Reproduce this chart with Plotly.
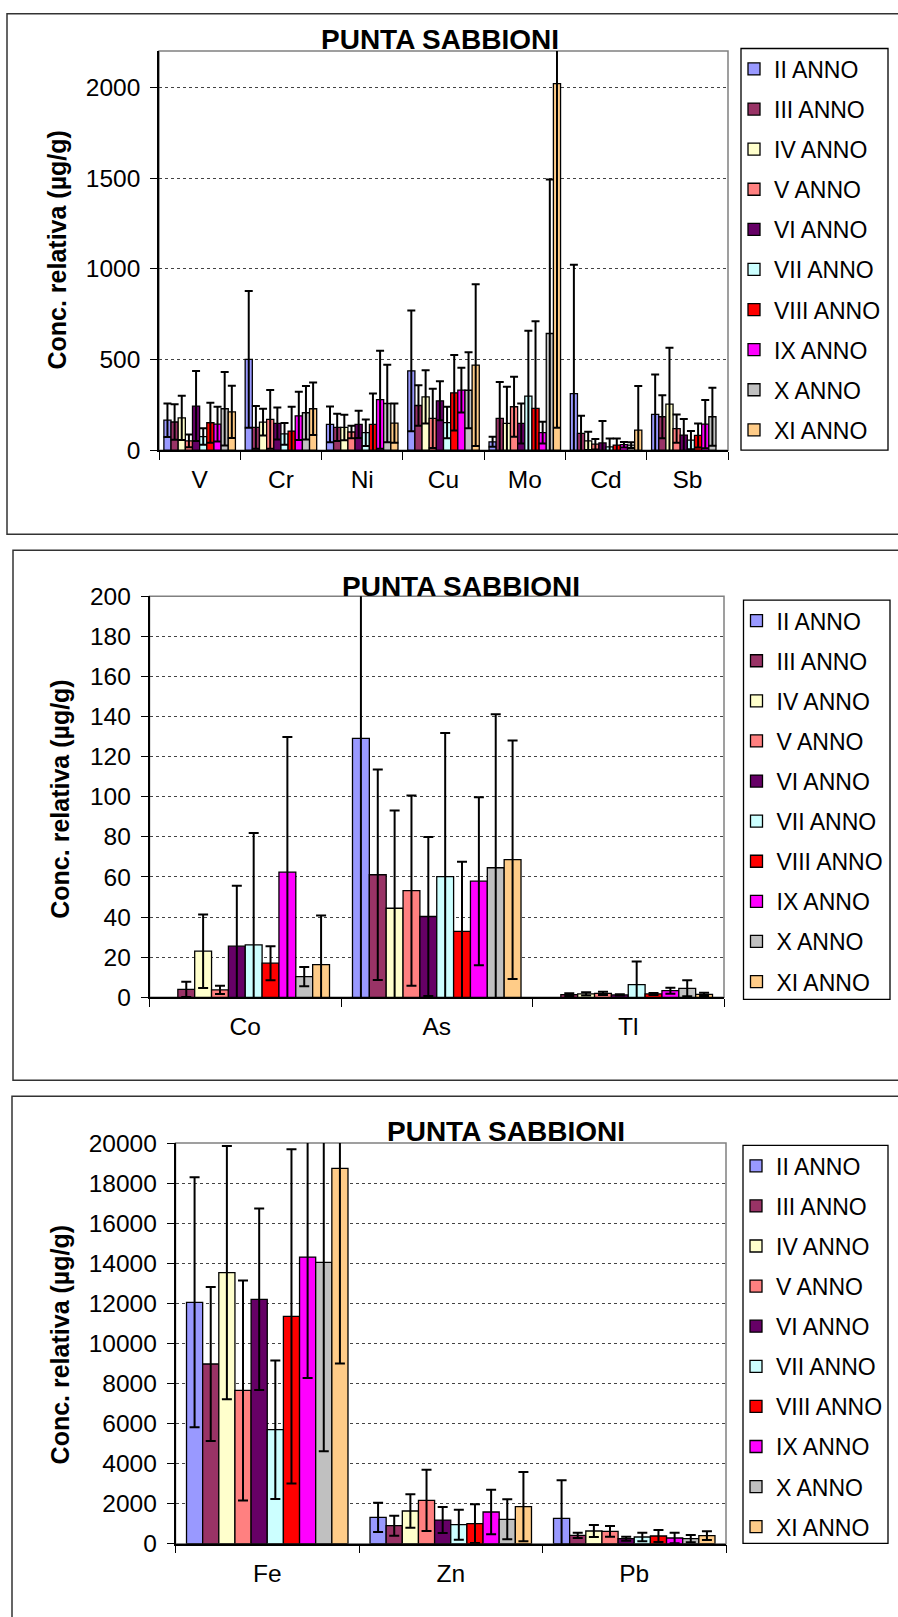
import plotly.graph_objects as go

W, H = 898, 1617

years = ["II ANNO", "III ANNO", "IV ANNO", "V ANNO", "VI ANNO",
         "VII ANNO", "VIII ANNO", "IX ANNO", "X ANNO", "XI ANNO"]
colors = ["#9999FF", "#993366", "#FFFFCC", "#FF8080", "#660066",
          "#CCFFFF", "#FF0000", "#FF00FF", "#C0C0C0", "#FFCC88"]

# ---- panel 1 ----
elements1 = ["V", "Cr", "Ni", "Cu", "Mo", "Cd", "Sb"]
vals1 = [  # rows = year, cols = element
    [165, 500, 142, 437, 46, 312, 197],
    [155, 125, 125, 246, 175, 92, 184],
    [178, 154, 125, 294, 147, 51, 254],
    [51, 169, 100, 175, 239, 33, 119],
    [243, 147, 142, 272, 147, 40, 83],
    [75, 90, 96, 152, 298, 18, 55],
    [151, 105, 142, 316, 230, 28, 81],
    [143, 189, 278, 331, 96, 30, 143],
    [228, 206, 257, 330, 643, 28, 184],
    [211, 228, 149, 469, 2020, 110, None],
]
errs1 = [
    [92, 377, 99, 333, 28, 710, 220],
    [98, 118, 75, 112, 200, 97, 119],
    [122, 74, 70, 147, 202, 50, 310],
    [35, 162, 35, 163, 165, 29, 78],
    [193, 88, 75, 107, 110, 120, 88],
    [45, 60, 73, 87, 360, 46, 50],
    [110, 134, 170, 208, 481, 36, 66],
    [96, 133, 270, 123, 60, 15, 133],
    [202, 147, 213, 209, 849, 16, 160],
    [144, 145, 108, 446, 1897, 243, None],
]

# ---- panel 2 ----
elements2 = ["Co", "As", "Tl"]
vals2 = [
    [None, 129.1, None],
    [4.0, 61.1, 1.3],
    [23.0, 44.4, 1.7],
    [3.7, 53.2, 2.0],
    [25.5, 40.3, 1.2],
    [26.1, 60.2, 6.3],
    [17.0, 32.9, 1.7],
    [62.4, 57.9, 3.3],
    [10.3, 64.6, 4.5],
    [16.3, 68.6, 1.5],
]
errs2 = [
    [None, 135, None],
    [3.8, 52.5, 0.7],
    [18.3, 48.8, 0.8],
    [2.1, 47.4, 0.8],
    [30.1, 39.6, 0.3],
    [55.8, 71.6, 11.5],
    [8.5, 34.7, 0.5],
    [67.4, 41.9, 1.5],
    [4.8, 76.5, 4.0],
    [24.5, 59.5, 0.8],
]

# ---- panel 3 ----
elements3 = ["Fe", "Zn", "Pb"]
vals3 = [
    [12050, 1315, 1265],
    [8970, 900, 416],
    [13530, 1630, 632],
    [7650, 2160, 616],
    [12200, 1180, 250],
    [5690, 950, 333],
    [11350, 1000, 383],
    [14310, 1580, 283],
    [14040, 1215, 250],
    [18740, 1850, 399],
]
errs3 = [
    [6240, 732, 1897],
    [3840, 499, 133],
    [6320, 832, 300],
    [5490, 1531, 266],
    [4530, 649, 100],
    [3460, 749, 216],
    [8340, 966, 300],
    [6040, 1115, 266],
    [9430, 998, 183],
    [9740, 1731, 216],
]

FONT = "Liberation Sans, Arial, sans-serif"
TITLE = "PUNTA SABBIONI"
YTITLE = "Conc. relativa (µg/g)"

VS, VOFF = 0.983, 13.0   # vertical compensation


def px(x):
    return x / W


def Y(y):
    return (y - VOFF) / VS


def py(y):
    return 1 - Y(y) / H


panels = [
    dict(cats=elements1, vals=vals1, errs=errs1, xd=(159, 728), yd=(51, 450),
         yr=[0, 2200], dt=500, leg=(741, 48.5, 888, 450), title=(439.5, 38),
         ytl=(57.5, 250), frame=(7, 4, 534), cap=4),
    dict(cats=elements2, vals=vals2, errs=errs2, xd=(149.5, 724), yd=(596, 997),
         yr=[0, 200], dt=20, leg=(743.5, 600, 890, 999), title=(460.5, 584),
         ytl=(60.5, 799), frame=(13, 550, 1080), cap=5),
    dict(cats=elements3, vals=vals3, errs=errs3, xd=(175.5, 726), yd=(1142.7, 1543.2),
         yr=[0, 20000], dt=2000, leg=(743, 1145, 888, 1543), title=(506, 1129),
         ytl=(60, 1345), frame=(12, 1096, 1640), cap=5),
]

fig = go.Figure()
shapes = []
annotations = []
layout = dict(width=W, height=H, margin=dict(l=0, r=0, t=0, b=0),
              paper_bgcolor="white", plot_bgcolor="white",
              barmode="group", bargap=0.12, bargroupgap=0,
              font=dict(family=FONT, color="black"), showlegend=True)

for p, P in enumerate(panels):
    sfx = "" if p == 0 else str(p + 1)
    legname = "legend" + sfx
    for i, yname in enumerate(years):
        fig.add_trace(go.Bar(
            name=yname, x=P["cats"], y=P["vals"][i],
            xaxis="x" + sfx, yaxis="y" + sfx,
            marker=dict(color=colors[i], line=dict(color="black", width=1.3)),
            error_y=dict(type="data", array=P["errs"][i], symmetric=True,
                         color="black", thickness=2, width=P["cap"]),
            legend=legname, legendgroup=f"p{p}_{i}",
        ))
    layout["xaxis" + sfx] = dict(
        domain=[px(P["xd"][0]), px(P["xd"][1])], anchor="y" + sfx,
        showline=True, linecolor="black", linewidth=1.5,
        ticks="outside", tickson="boundaries", ticklen=8, tickcolor="black",
        tickwidth=1.3, ticklabelstandoff=7,
        tickfont=dict(size=24.5, family=FONT, color="black"),
        showgrid=False, fixedrange=True)
    layout["yaxis" + sfx] = dict(
        domain=[py(P["yd"][1]), py(P["yd"][0])], anchor="x" + sfx,
        range=P["yr"], dtick=P["dt"], tick0=0, tickformat="d",
        showline=True, linecolor="black", linewidth=1.5,
        ticks="outside", ticklen=7, tickcolor="black", tickwidth=1.3,
        ticklabelstandoff=5,
        tickfont=dict(size=24.5, family=FONT, color="black"),
        showgrid=True, gridcolor="#444444", griddash="dot", gridwidth=1,
        zeroline=False, fixedrange=True)
    lx0, ly0, lx1, ly1 = P["leg"]
    layout[legname] = dict(
        x=px(734 if p == 0 else lx0 - 7), y=py(ly0 - 1), xanchor="left", yanchor="top",
        borderwidth=0, bgcolor="rgba(0,0,0,0)",
        font=dict(size=23, family=FONT, color="black"),
        tracegroupgap=7.2, itemclick=False, itemdoubleclick=False)
    # legend border
    shapes.append(dict(type="rect", xref="paper", yref="paper",
                       x0=px(lx0), x1=px(lx1), y0=py(ly1), y1=py(ly0),
                       line=dict(color="black", width=1.3), fillcolor="white",
                       layer="below"))
    # outer frame
    fx0, fy0, fy1 = P["frame"]
    ytop = min(py(fy0), 1 - 0.8 / H)
    shapes.append(dict(type="rect", xref="paper", yref="paper",
                       x0=px(fx0), x1=1.05, y0=py(fy1), y1=ytop,
                       line=dict(color="#333333", width=1.5), layer="below"))
    # plot area border (grey)
    shapes.append(dict(type="rect", xref="paper", yref="paper",
                       x0=px(P["xd"][0]), x1=px(P["xd"][1]),
                       y0=py(P["yd"][1]), y1=py(P["yd"][0]),
                       line=dict(color="#808080", width=1.5), layer="below"))
    annotations.append(dict(text=f"<b>{TITLE}</b>", xref="paper", yref="paper",
                            x=px(P["title"][0]), y=1 - (Y(P["title"][1]) + 2) / H,
                            xanchor="center", yanchor="middle", showarrow=False,
                            font=dict(size=28, family=FONT, color="black")))
    annotations.append(dict(text=f"<b>{YTITLE}</b>", xref="paper", yref="paper",
                            x=px(P["ytl"][0]), y=py(P["ytl"][1]),
                            xanchor="center", yanchor="middle", showarrow=False,
                            textangle=-90,
                            font=dict(size=25, family=FONT, color="black")))

layout["shapes"] = shapes
layout["annotations"] = annotations
fig.update_layout(**layout)
fig.write_html("out.html")
